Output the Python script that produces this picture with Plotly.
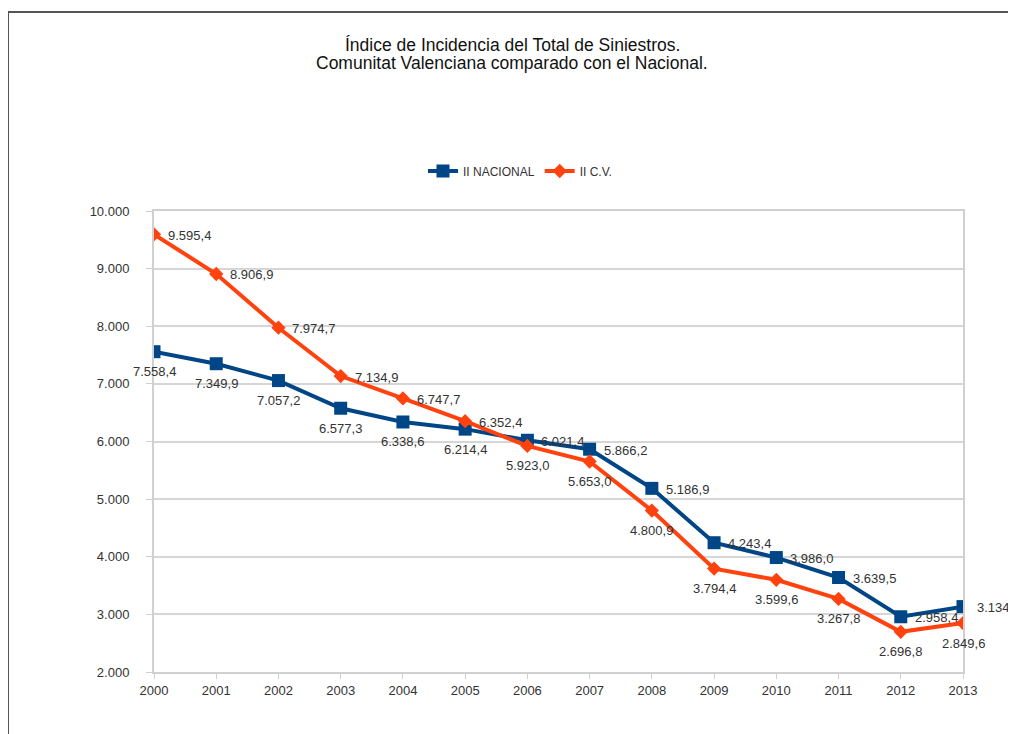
import plotly.graph_objects as go

years = [2000, 2001, 2002, 2003, 2004, 2005, 2006, 2007, 2008, 2009, 2010, 2011, 2012, 2013]
nacional = [7558.4, 7349.9, 7057.2, 6577.3, 6338.6, 6214.4, 6021.4, 5866.2, 5186.9, 4243.4, 3986.0, 3639.5, 2958.4, 3134.9]
cv = [9595.4, 8906.9, 7974.7, 7134.9, 6747.7, 6352.4, 5923.0, 5653.0, 4800.9, 3794.4, 3599.6, 3267.8, 2696.8, 2849.6]
series_names = ["II NACIONAL", "II C.V."]
title_lines = ["Índice de Incidencia del Total de Siniestros.", "Comunitat Valenciana comparado con el Nacional."]

BLUE = "#004586"
ORANGE = "#ff420e"
FONT = "Liberation Sans, Arial, sans-serif"
TXT = "#333333"

# page offset (browser body margin)
OFF = 8
W, H = 1016 - OFF, 734 - OFF
L, R, T, B = 154 - OFF, 1016 - 963, 211 - OFF, 734 - 672
pw, ph = W - L - R, H - T - B


def px(x):
    return (x - OFF - L) / pw


def py(y):
    return (H - B - (y - OFF)) / ph


def fmt(v):
    s = f"{v:,.1f}"
    return s.replace(",", "X").replace(".", ",").replace("X", ".")


fig = go.Figure()
fig.add_trace(go.Scatter(
    x=years, y=nacional, name=series_names[0], mode="lines+markers",
    line=dict(color=BLUE, width=4),
    marker=dict(symbol="square", size=13, color=BLUE),
))
fig.add_trace(go.Scatter(
    x=years, y=cv, name=series_names[1], mode="lines+markers",
    line=dict(color=ORANGE, width=4),
    marker=dict(symbol="diamond", size=11, color=ORANGE),
))

annotations = []
for yr, n, c in zip(years, nacional, cv):
    for v, higher in ((n, n >= c), (c, c > n)):
        if higher:
            annotations.append(dict(x=yr, y=v, xref="x", yref="y", text=fmt(v), showarrow=False,
                                    xanchor="left", yanchor="middle", xshift=12, yshift=-1,
                                    font=dict(family=FONT, size=13, color=TXT)))
        else:
            annotations.append(dict(x=yr, y=v, xref="x", yref="y", text=fmt(v), showarrow=False,
                                    xanchor="center", yanchor="middle", yshift=-20,
                                    font=dict(family=FONT, size=13, color=TXT)))

for i, (line, ypix) in enumerate(zip(title_lines, [45, 63])):
    annotations.append(dict(x=px(512), y=py(ypix), xref="paper", yref="paper", text=line,
                            showarrow=False, xanchor="center", yanchor="middle",
                            font=dict(family=FONT, size=17.5, color="#111111")))

fig.update_layout(
    width=W, height=H,
    margin=dict(l=L, r=R, t=T, b=B),
    paper_bgcolor="white", plot_bgcolor="white",
    separators=",.",
    font=dict(family=FONT, size=13, color=TXT),
    showlegend=True,
    legend=dict(orientation="h", x=px(520), xanchor="center", y=py(171), yanchor="middle",
                font=dict(family=FONT, size=12, color=TXT),
                bgcolor="rgba(0,0,0,0)"),
    xaxis=dict(range=[2000, 2013], tickmode="array", tickvals=years,
               ticktext=[str(y) for y in years],
               showgrid=False, showline=True, linecolor="#d0d0d0", linewidth=2,
               ticks="outside", ticklen=5, tickcolor="#d0d0d0", mirror=True,
               tickfont=dict(family=FONT, size=13, color=TXT), zeroline=False),
    yaxis=dict(range=[2000, 10000], dtick=1000, tickformat=",d",
               showgrid=True, gridcolor="#d6d6d6", gridwidth=1.5,
               showline=True, linecolor="#d0d0d0", linewidth=2, mirror=True,
               ticks="outside", ticklen=6, tickcolor="#d0d0d0", ticklabelstandoff=14,
               tickfont=dict(family=FONT, size=13, color=TXT), zeroline=False),
    annotations=annotations,
    shapes=[dict(type="rect", xref="paper", yref="paper",
                 x0=px(8), x1=px(1040), y0=py(760), y1=py(12),
                 line=dict(color="#555555", width=2), fillcolor="rgba(0,0,0,0)")],
)

fig.write_html("out.html")
